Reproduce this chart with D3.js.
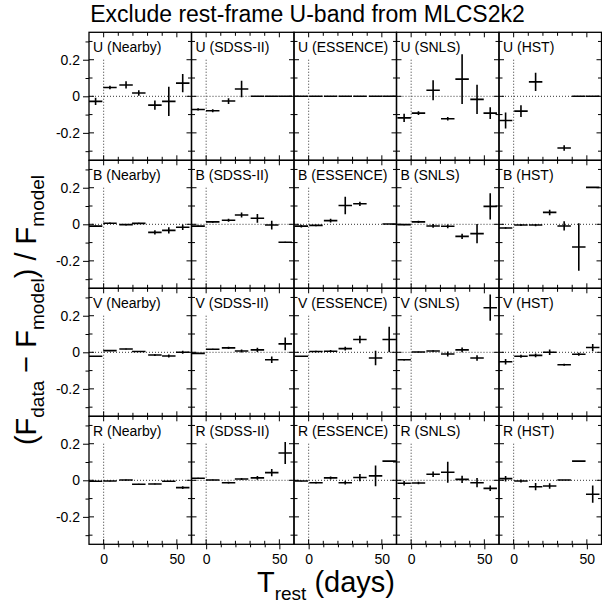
<!DOCTYPE html>
<html>
<head>
<meta charset="utf-8">
<script src="https://cdn.jsdelivr.net/npm/d3@7/dist/d3.min.js"></script>
<style>
  html, body { margin: 0; padding: 0; background: #fff; }
  svg { display: block; }
  text { font-family: "Liberation Sans", Arial, Helvetica, sans-serif; fill: #000; }
</style>
</head>
<body>
<svg id="chart" width="602" height="607"></svg>
<script>
// ---------------- DATA ----------------
const title = "Exclude rest-frame U-band from MLCS2k2";
const bands = ["U", "B", "V", "R"];
const surveys = ["Nearby", "SDSS-II", "ESSENCE", "SNLS", "HST"];
const xTickLabels = [0, 50];
const yTickLabels = [-0.2, 0, 0.2];
const binHalfWidth = 4.6; // days

// time-bin centres (days) for each survey
const tNearby  = [-5.5, 4.3, 15.3, 24.0, 35.0, 44.5, 54.0];
const tSDSS    = [-5.5, 4.5, 15.3, 24.2, 35.0, 44.8, 54.0];
const tESSENCE = [-5.0, 5.0, 15.0, 25.0, 35.0, 45.7, 55.0];
const tSNLS    = [-4.8, 5.0, 15.0, 25.0, 34.8, 45.0, 54.0];
const tHST     = [-5.5, 5.0, 15.0, 24.6, 34.5, 44.5, 54.0];
const times = [tNearby, tSDSS, tESSENCE, tSNLS, tHST];

// residuals (F_data - F_model)/F_model and their errors; null = no point
const U_val = [
  [-0.028, 0.048, 0.062, 0.018, -0.048, -0.028, 0.072],
  [-0.072, -0.079, -0.026, 0.040, 0, 0, 0],
  [0, 0, 0, 0, 0, 0, 0],
  [-0.118, -0.092, 0.033, -0.123, 0.094, -0.017, -0.092],
  [-0.132, -0.081, 0.079, null, -0.283, 0, 0]
];
const U_err = [
  [0.020, 0.010, 0.020, 0.015, 0.025, 0.080, 0.050],
  [0.006, 0.008, 0.016, 0.045, 0, 0, 0],
  [0, 0, 0, 0, 0, 0, 0],
  [0.023, 0.010, 0.055, 0.010, 0.136, 0.080, 0.032],
  [0.044, 0.032, 0.050, null, 0.015, 0, 0]
];
const B_val = [
  [-0.010, 0.006, -0.002, 0.005, -0.044, -0.033, -0.016],
  [-0.010, 0.013, 0.022, 0.051, 0.033, -0.004, -0.098],
  [-0.010, -0.006, 0.020, 0.103, 0.112, null, 0.002],
  [-0.002, 0.013, -0.009, -0.011, -0.066, -0.051, 0.098],
  [-0.020, -0.004, -0.004, 0.065, -0.009, -0.124, 0.202]
];
const B_err = [
  [0.003, 0.004, 0.004, 0.004, 0.012, 0.017, 0.015],
  [0.003, 0.004, 0.008, 0.014, 0.024, 0.024, 0.002],
  [0.007, 0.004, 0.010, 0.048, 0.012, null, 0],
  [0.003, 0.006, 0.010, 0.010, 0.015, 0.053, 0.072],
  [0.004, 0.005, 0.006, 0.015, 0.025, 0.130, 0]
];
const V_val = [
  [-0.022, 0.009, 0.018, 0.004, -0.015, -0.020, 0.000],
  [-0.006, 0.017, 0.024, 0.007, 0.013, -0.041, 0.046],
  [-0.022, 0.004, 0.006, 0.020, 0.070, -0.031, 0.070],
  [-0.041, 0.002, 0.007, -0.009, 0.013, -0.031, 0.244],
  [-0.052, -0.022, -0.017, 0.000, -0.068, -0.011, 0.026]
];
const V_err = [
  [0.002, 0.003, 0.003, 0.003, 0.005, 0.008, 0.008],
  [0.002, 0.003, 0.006, 0.008, 0.012, 0.018, 0.035],
  [0.002, 0.004, 0.006, 0.010, 0.020, 0.040, 0.070],
  [0.004, 0.003, 0.004, 0.014, 0.013, 0.015, 0.072],
  [0.015, 0.008, 0.010, 0.015, 0.006, 0.008, 0.020]
];
const R_val = [
  [-0.005, -0.004, 0.002, -0.022, -0.020, -0.005, -0.040],
  [0.011, 0.002, -0.013, 0.007, 0.013, 0.042, 0.149],
  [-0.004, -0.013, 0.013, -0.013, 0.015, 0.024, 0.105],
  [-0.016, -0.015, 0.033, 0.044, 0.005, -0.013, -0.044],
  [0.009, -0.004, -0.035, -0.031, 0.002, 0.105, -0.076]
];
const R_err = [
  [0.003, 0.002, 0.003, 0.003, 0.003, 0.003, 0.008],
  [0.003, 0.002, 0.005, 0.005, 0.010, 0.020, 0.060],
  [0.002, 0.005, 0.008, 0.010, 0.020, 0.057, 0],
  [0.012, 0.007, 0.015, 0.057, 0.020, 0.025, 0.015],
  [0.015, 0.008, 0.020, 0.015, 0, 0, 0.047]
];
const values = [U_val, B_val, V_val, R_val];
const errors = [U_err, B_err, V_err, R_err];

// ---------------- LAYOUT ----------------
const svg = d3.select("#chart");
const mLeft = 89, mTop = 32.3, mRight = 601.5;
const pw = (mRight - mLeft) / 5, ph = 128;

const x = d3.scaleLinear().domain([-10, 60]).range([0, pw]);
const y = d3.scaleLinear().domain([-0.35, 0.35]).range([ph, 0]);

const fmtY = d => d === 0 ? "0" : (d < 0 ? "-" : "") + Math.abs(d).toFixed(1);
const yMinor = d3.range(-3, 4).map(k => k / 10);
const xMinor = d3.range(0, 6).map(k => k * 10);

const defs = svg.append("defs");

bands.forEach((band, r) => {
  surveys.forEach((sv, c) => {
    const g = svg.append("g").attr("transform", `translate(${mLeft + c * pw},${mTop + r * ph})`);
    const cid = `clip-${r}-${c}`;
    defs.append("clipPath").attr("id", cid)
      .append("rect").attr("width", pw).attr("height", ph);

    // dotted reference lines
    g.append("line")
      .attr("x1", 0).attr("x2", pw).attr("y1", y(0)).attr("y2", y(0))
      .attr("stroke", "#333").attr("stroke-width", 1).attr("stroke-dasharray", "1,2");
    g.append("line")
      .attr("x1", x(0)).attr("x2", x(0)).attr("y1", y(0.2)).attr("y2", ph)
      .attr("stroke", "#333").attr("stroke-width", 1).attr("stroke-dasharray", "1,2");

    // data points (crosses)
    const pts = times[c].map((t, i) => ({t, v: values[r][c][i], e: errors[r][c][i]}))
      .filter(p => p.v !== null);
    const mg = g.append("g").attr("clip-path", `url(#${cid})`)
      .attr("stroke", "#000").attr("stroke-width", 1.6);
    mg.selectAll("line.h").data(pts).join("line").attr("class", "h")
      .attr("x1", p => x(p.t - binHalfWidth)).attr("x2", p => x(p.t + binHalfWidth))
      .attr("y1", p => y(p.v)).attr("y2", p => y(p.v));
    mg.selectAll("line.v").data(pts.filter(p => p.e > 0)).join("line").attr("class", "v")
      .attr("x1", p => x(p.t)).attr("x2", p => x(p.t))
      .attr("y1", p => y(p.v - p.e)).attr("y2", p => y(p.v + p.e));

    // inward ticks on all four sides
    const tg = g.append("g").attr("stroke", "#000").attr("stroke-width", 1);
    yMinor.forEach(v => {
      const len = (Math.abs(Math.round(v * 10)) % 2 === 0) ? 5 : 3.5;
      tg.append("line").attr("x1", 0).attr("x2", len).attr("y1", y(v)).attr("y2", y(v));
      tg.append("line").attr("x1", pw).attr("x2", pw - len).attr("y1", y(v)).attr("y2", y(v));
    });
    xMinor.forEach(t => {
      const len = (t === 0 || t === 50) ? 5 : 3.5;
      tg.append("line").attr("x1", x(t)).attr("x2", x(t)).attr("y1", ph).attr("y2", ph - len);
      tg.append("line").attr("x1", x(t)).attr("x2", x(t)).attr("y1", 0).attr("y2", len);
    });

    // outer axes
    if (c === 0) {
      const ax = g.append("g").call(d3.axisLeft(y).tickValues(yTickLabels).tickFormat(fmtY).tickSize(6).tickPadding(3));
      ax.select(".domain").remove();
      ax.selectAll("text").style("font-size", "14px").style("font-family", '"Liberation Sans", Arial, sans-serif');
      const axm = g.append("g").call(d3.axisLeft(y).tickValues(yMinor.filter(v => Math.abs(Math.round(v * 10)) % 2 === 1)).tickFormat("").tickSize(3.5));
      axm.select(".domain").remove();
    }
    if (r === bands.length - 1) {
      const ax = g.append("g").attr("transform", `translate(0,${ph})`)
        .call(d3.axisBottom(x).tickValues(xTickLabels).tickSize(5).tickPadding(5));
      ax.select(".domain").remove();
      ax.selectAll("text").style("font-size", "14px").style("font-family", '"Liberation Sans", Arial, sans-serif');
      const axm = g.append("g").attr("transform", `translate(0,${ph})`)
        .call(d3.axisBottom(x).tickValues([10, 20, 30, 40]).tickFormat("").tickSize(3));
      axm.select(".domain").remove();
    }

    // frame
    g.append("rect").attr("width", pw).attr("height", ph)
      .attr("fill", "none").attr("stroke", "#000").attr("stroke-width", 1.3);

    // panel label
    g.append("text").attr("x", 4).attr("y", 19.5)
      .style("font-size", "14px").text(`${band} (${sv})`);
  });
});

// title
svg.append("text").attr("x", 307.5).attr("y", 22).attr("text-anchor", "middle")
  .style("font-size", "23px").text(title);

// x label
const xl = svg.append("text").attr("x", 326).attr("y", 592).attr("text-anchor", "middle")
  .style("font-size", "29px");
xl.append("tspan").text("T");
xl.append("tspan").attr("dy", 8).style("font-size", "19px").text("rest");
xl.append("tspan").attr("dy", -8).text(" (days)");

// y label
const yl = svg.append("text").attr("transform", "translate(36,310) rotate(-90)")
  .attr("text-anchor", "middle").style("font-size", "29px");
yl.append("tspan").text("(F");
yl.append("tspan").attr("dy", 8).style("font-size", "19px").text("data");
yl.append("tspan").attr("dy", -8).text(" − F");
yl.append("tspan").attr("dy", 8).style("font-size", "19px").text("model");
yl.append("tspan").attr("dy", -8).text(") / F");
yl.append("tspan").attr("dy", 8).style("font-size", "19px").text("model");
</script>
</body>
</html>
